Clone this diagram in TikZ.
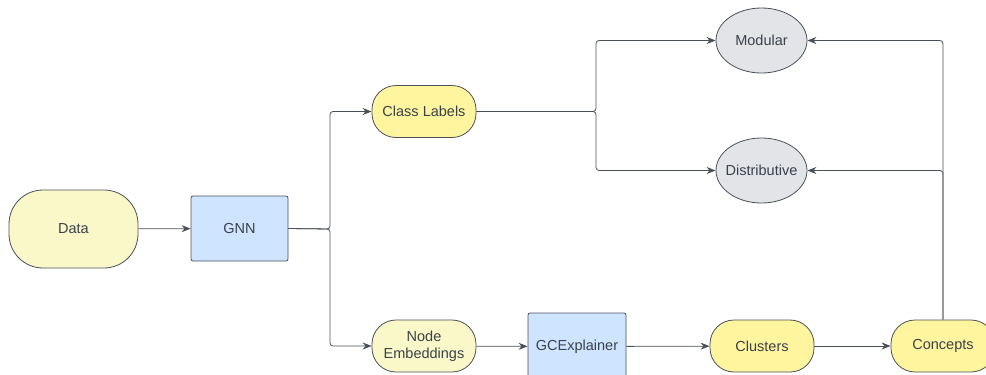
\documentclass[tikz,border=0pt]{standalone}
\usepackage{fontspec}
\setmainfont{Liberation Sans}
\usepackage{tikz}
\usetikzlibrary{shapes.geometric,arrows.meta}
\definecolor{lineC}{HTML}{4A5059}
\definecolor{textC}{HTML}{3A414A}
\definecolor{yelA}{HTML}{FAF8C8}
\definecolor{yelB}{HTML}{FFF59E}
\definecolor{bluA}{HTML}{CFE4FF}
\definecolor{grayA}{HTML}{E2E4E8}

\begin{document}
\begin{tikzpicture}[x=1pt,y=-1pt,
    every node/.style={text=textC, font=\fontsize{14.5}{17}\selectfont},
    pill/.style={draw=lineC, line width=0.8pt, rounded corners=24pt, minimum width=104pt, minimum height=52pt, align=center},
    boxx/.style={draw=lineC, line width=0.8pt, rounded corners=2pt},
    oval/.style={ellipse, draw=lineC, line width=0.8pt, fill=grayA, minimum width=91pt, minimum height=65pt, inner sep=0pt},
    arr/.style={-{Stealth[length=9pt,width=7pt]}, draw=lineC, line width=0.8pt, rounded corners=3pt}]
    % 範囲
    \useasboundingbox (0,0) rectangle (986,375);
    % ノード
    \node[pill, fill=yelA, minimum width=129pt, minimum height=78pt, rounded corners=34pt] (data) at (73.5,229) {Data};
    \node[boxx, fill=bluA, minimum width=97pt, minimum height=65pt] (gnn) at (239.5,228.5) {GNN};
    \node[pill, fill=yelB] (cls) at (424,111.5) {Class Labels};
    \node[pill, fill=yelA] (emb) at (424,346) {Node\\Embeddings};
    \node[boxx, fill=bluA, minimum width=98pt, minimum height=67pt] (gce) at (577,346.5) {GCExplainer};
    \node[pill, fill=yelB] (clu) at (762,346) {Clusters};
    \node[pill, fill=yelB] (con) at (943,346) {Concepts};
    \node[oval] (mod) at (761.5,40.5) {\makebox[0pt]{Modular}};
    \node[oval] (dist) at (761.5,170.5) {\makebox[0pt]{Distributive}};
    % 分岐点
    \coordinate (brA) at (330,229);
    \coordinate (brB) at (596,111.5);
    % 矢印
    \draw[arr] (data) -- (gnn);
    \draw[arr] (gnn.east) -- (brA) |- (cls.west);
    \draw[arr] (gnn.east) -- (brA) |- (emb.west);
    \draw[arr] (cls.east) -- (brB) |- (mod.west);
    \draw[arr] (cls.east) -- (brB) |- (dist.west);
    \draw[arr] (emb) -- (gce);
    \draw[arr] (gce) -- (clu);
    \draw[arr] (clu) -- (con);
    \draw[arr] (con.north) |- (mod.east);
    \draw[arr] (con.north) |- (dist.east);
\end{tikzpicture}
\end{document}
